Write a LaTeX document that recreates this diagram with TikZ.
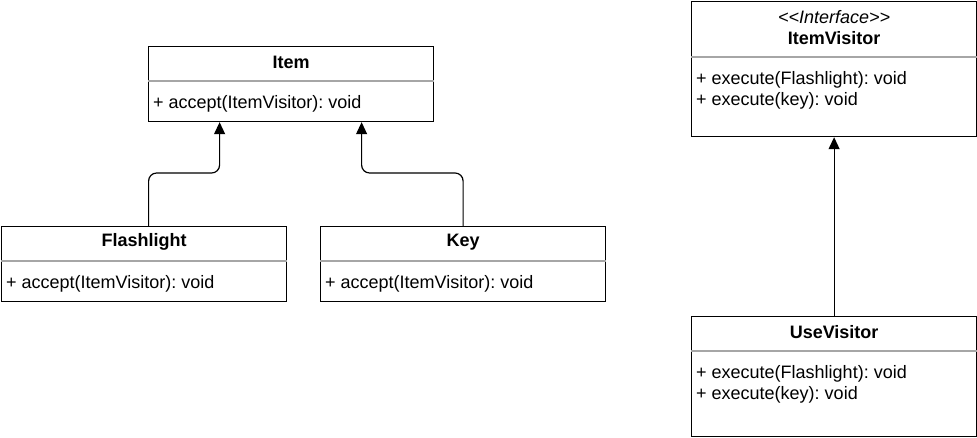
\documentclass[tikz,border=0pt]{standalone}
\usepackage{fontspec}
\setmainfont{Liberation Sans}
\usetikzlibrary{arrows.meta,positioning}

\tikzset{
	classbox/.style={draw=black, line width=1.2pt, inner sep=0pt, anchor=north west, minimum width=285pt},
	classname/.style={font=\bfseries\fontsize{18}{21}\selectfont, inner sep=0pt},
	stereo/.style={font=\itshape\fontsize{18}{21}\selectfont, inner sep=0pt},
	member/.style={font=\fontsize{18}{21}\selectfont, inner sep=0pt, anchor=west},
	divider/.style={line width=1.2pt, color=black!35},
	extends/.style={-{Triangle[length=12pt, width=11pt]}, line width=1.2pt, rounded corners=8pt}
}

\begin{document}
\frenchspacing
\begin{tikzpicture}[x=1pt, y=-1pt]
	\useasboundingbox (0,0) rectangle (977,437);

	% classes
	\node[classbox, minimum height=75pt](item) at (148,46){};
	\node[classbox, minimum height=75pt](flash) at (1,226){};
	\node[classbox, minimum height=75pt](key) at (320,226){};
	\node[classbox, minimum height=135pt](itemvis) at (691,1){};
	\node[classbox, minimum height=120pt](usevis) at (691,316){};

	% names
	\node[classname](itemname) at ([yshift=-16pt]item.north){Item};
	\node[classname](flashname) at ([yshift=-16pt]flash.north){Flashlight};
	\node[classname](keyname) at ([yshift=-16pt]key.north){Key};
	\node[stereo](itemvisstereo) at ([yshift=-16pt]itemvis.north){<{}<Interface>{}>};
	\node[classname](itemvisname) at ([yshift=-37pt]itemvis.north){ItemVisitor};
	\node[classname](usevisname) at ([yshift=-16pt]usevis.north){UseVisitor};

	% dividers
	\draw[divider] ([yshift=-35pt]item.north west) -- ([yshift=-35pt]item.north east);
	\draw[divider] ([yshift=-35pt]flash.north west) -- ([yshift=-35pt]flash.north east);
	\draw[divider] ([yshift=-35pt]key.north west) -- ([yshift=-35pt]key.north east);
	\draw[divider] ([yshift=-56pt]itemvis.north west) -- ([yshift=-56pt]itemvis.north east);
	\draw[divider] ([yshift=-35pt]usevis.north west) -- ([yshift=-35pt]usevis.north east);

	% members
	\node[member](itemop) at ([xshift=5pt, yshift=-57.5pt]item.north west){+ accept(ItemVisitor): void};
	\node[member](flashop) at ([xshift=5pt, yshift=-57.5pt]flash.north west){+ accept(ItemVisitor): void};
	\node[member](keyop) at ([xshift=5pt, yshift=-57.5pt]key.north west){+ accept(ItemVisitor): void};
	\node[member](itemvisopa) at ([xshift=5pt, yshift=-78.5pt]itemvis.north west){+ execute(Flashlight): void};
	\node[member](itemvisopb) at ([xshift=5pt, yshift=-99.5pt]itemvis.north west){+ execute(key): void};
	\node[member](usevisopa) at ([xshift=5pt, yshift=-57.5pt]usevis.north west){+ execute(Flashlight): void};
	\node[member](usevisopb) at ([xshift=5pt, yshift=-78.5pt]usevis.north west){+ execute(key): void};

	% inheritance
	\draw[extends] ([xshift=4.5pt]flash.north) -- ++(0,-53) -| ([xshift=-71.5pt]item.south);
	\draw[extends] (key.north) -- ++(0,-53) -| ([xshift=70.5pt]item.south);
	\draw[extends] (usevis.north) -- (itemvis.south);
\end{tikzpicture}
\end{document}
